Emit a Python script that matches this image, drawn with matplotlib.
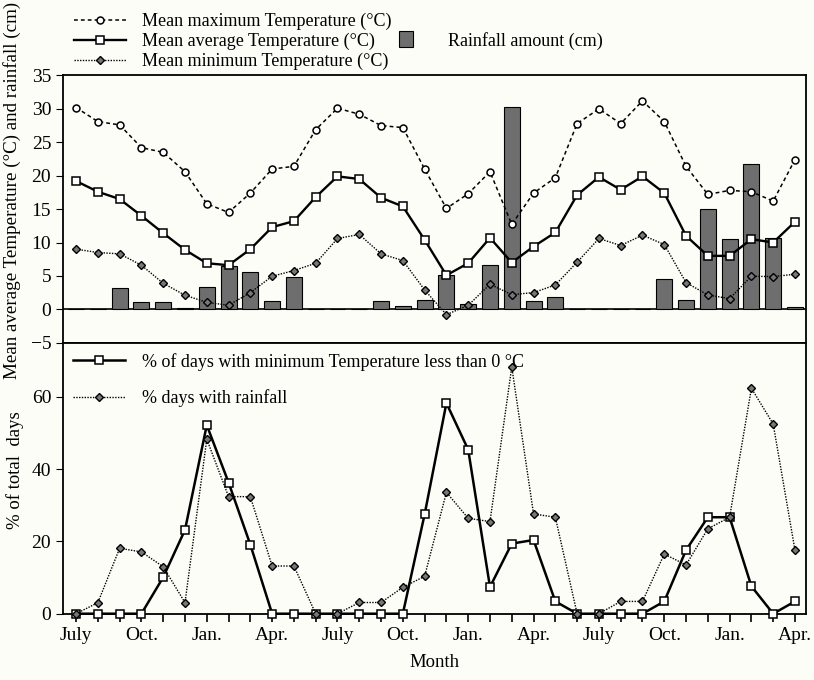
import matplotlib.pyplot as plt

plt.rcParams["font.family"] = "Liberation Serif"

# months from July (year 1) to April (year 3)
months = list(range(34))
tick_pos = list(range(0, 34, 3))
tick_labels = ["July", "Oct.", "Jan.", "Apr."] * 3

t_max = [30.2, 28.1, 27.6, 24.2, 23.5, 20.6, 15.8, 14.5, 17.4, 21.0, 21.4, 26.9,
         30.1, 29.2, 27.5, 27.2, 21.0, 15.1, 17.3, 20.6, 12.7, 17.4, 19.7, 27.8,
         30.0, 27.8, 31.2, 28.1, 21.4, 17.2, 17.8, 17.6, 16.2, 22.4]
t_avg = [19.2, 17.6, 16.5, 14.0, 11.4, 8.9, 6.9, 6.6, 9.0, 12.3, 13.2, 16.8,
         19.9, 19.5, 16.7, 15.4, 10.4, 5.1, 6.9, 10.7, 7.0, 9.4, 11.5, 17.1,
         19.8, 17.9, 19.9, 17.4, 11.0, 8.0, 8.0, 10.5, 10.0, 13.1]
t_min = [9.0, 8.5, 8.3, 6.6, 3.9, 2.1, 1.05, 0.6, 2.5, 4.95, 5.8, 6.9,
         10.6, 11.2, 8.3, 7.3, 2.9, -0.8, 0.6, 3.75, 2.2, 2.5, 3.65, 7.05,
         10.6, 9.55, 11.1, 9.7, 4.0, 2.15, 1.6, 4.95, 4.9, 5.25]
rain = [0.0, 0.0, 3.2, 1.15, 1.1, 0.15, 3.4, 6.55, 5.55, 1.3, 4.85, 0.0,
        0.0, 0.1, 1.25, 0.55, 1.35, 5.2, 0.8, 6.65, 30.3, 1.25, 1.85, 0.0,
        0.0, 0.1, 0.1, 4.55, 1.35, 14.95, 10.55, 21.7, 10.65, 0.3]

frost_pct = [0, 0, 0, 0, 10.1, 23.2, 52.2, 36.3, 19.1, 0, 0, 0,
             0, 0, 0, 0, 27.5, 58.3, 45.4, 7.4, 19.4, 20.4, 3.4, 0,
             0, 0, 0, 3.4, 17.6, 26.7, 26.7, 7.6, 0, 3.4]
rain_pct = [0, 3.05, 18.1, 17.1, 13.0, 3.05, 48.3, 32.4, 32.4, 13.2, 13.2, 0,
            0, 3.1, 3.1, 7.3, 10.35, 33.6, 26.4, 25.5, 68.3, 27.6, 26.7, 0,
            0, 3.4, 3.4, 16.5, 13.5, 23.5, 26.7, 62.4, 52.5, 17.6]

bg = "#fdfdf8"
fig = plt.figure(figsize=(8.14, 6.8), dpi=100, facecolor=bg)
ax1 = fig.add_axes([0.0774, 0.496, 0.9126, 0.393], facecolor=bg)
ax2 = fig.add_axes([0.0774, 0.0975, 0.9126, 0.3985], facecolor=bg, sharex=ax1)

# top panel
bars = ax1.bar(months, rain, width=0.73, color="#6e6e6e", edgecolor="black", linewidth=0.8, zorder=2)
ax1.axhline(0, color="black", linewidth=1.2, zorder=1)
l_max, = ax1.plot(months, t_max, color="black", linestyle=(0, (2.5, 2)), linewidth=1.1,
                  marker="o", markersize=5, markerfacecolor="white", markeredgewidth=1.1, zorder=3)
l_avg, = ax1.plot(months, t_avg, color="black", linestyle="-", linewidth=1.7,
                  marker="s", markersize=6, markerfacecolor="white", markeredgewidth=1.1, zorder=3)
l_min, = ax1.plot(months, t_min, color="black", linestyle=(0, (1, 1)), linewidth=1.0,
                  marker="D", markersize=4, markerfacecolor="#777777", markeredgewidth=1.0, zorder=3)
ax1.set_ylim(-5, 35)
ax1.set_yticks(range(-5, 36, 5))
ax1.set_xlim(-0.6, 33.5)
ax1.tick_params(axis="x", bottom=False, labelbottom=False)
ax1.tick_params(axis="y", labelsize=14, direction="out", length=5)
ax1.set_ylabel("Mean average Temperature (°C) and rainfall (cm)", fontsize=13.7)
ax1.yaxis.set_label_coords(-0.057, 0.57)

fig.legend([l_max, l_avg, l_min], ["Mean maximum Temperature (°C)", "Mean average Temperature (°C)",
                                   "Mean minimum Temperature (°C)"],
           loc="upper left", bbox_to_anchor=(0.075, 1.0), frameon=False, fontsize=13,
           handlelength=2.9, labelspacing=0.16, handletextpad=0.9, borderpad=0.2)
fig.legend([bars], ["Rainfall amount (cm)"], loc="upper left", bbox_to_anchor=(0.47, 0.978),
           frameon=False, fontsize=13, handlelength=0.8, handleheight=1.0, handletextpad=1.9)

# bottom panel
p_frost, = ax2.plot(months, frost_pct, color="black", linestyle="-", linewidth=1.8,
                    marker="s", markersize=6, markerfacecolor="white", markeredgewidth=1.1,
                    zorder=3, clip_on=False)
p_rain, = ax2.plot(months, rain_pct, color="black", linestyle=(0, (1, 1)), linewidth=1.0,
                   marker="D", markersize=4, markerfacecolor="#777777", markeredgewidth=1.0,
                   zorder=3, clip_on=False)
ax2.set_ylim(0, 75)
ax2.set_yticks([0, 20, 40, 60])
ax2.set_xticks(months, minor=True)
ax2.set_xticks(tick_pos)
ax2.set_xticklabels(tick_labels)
ax2.tick_params(axis="x", which="both", direction="out", length=6, width=1.2, labelsize=14)
ax2.tick_params(axis="y", direction="out", length=5, labelsize=14)
ax2.spines["bottom"].set_linewidth(1.6)
ax2.set_ylabel("% of total  days", fontsize=13.5)
ax2.yaxis.set_label_coords(-0.052, 0.53)
ax2.set_xlabel("Month", fontsize=13.5, labelpad=7)
ax2.legend([p_frost, p_rain], ["% of days with minimum Temperature less than 0 °C", "% days with rainfall"],
           loc="upper left", frameon=False, fontsize=13, handlelength=2.9,
           labelspacing=1.05, handletextpad=0.9, borderaxespad=0.15)

for ax in (ax1, ax2):
    for s in ax.spines.values():
        s.set_linewidth(1.3)

fig.savefig("out.png", dpi=100, facecolor=bg)
